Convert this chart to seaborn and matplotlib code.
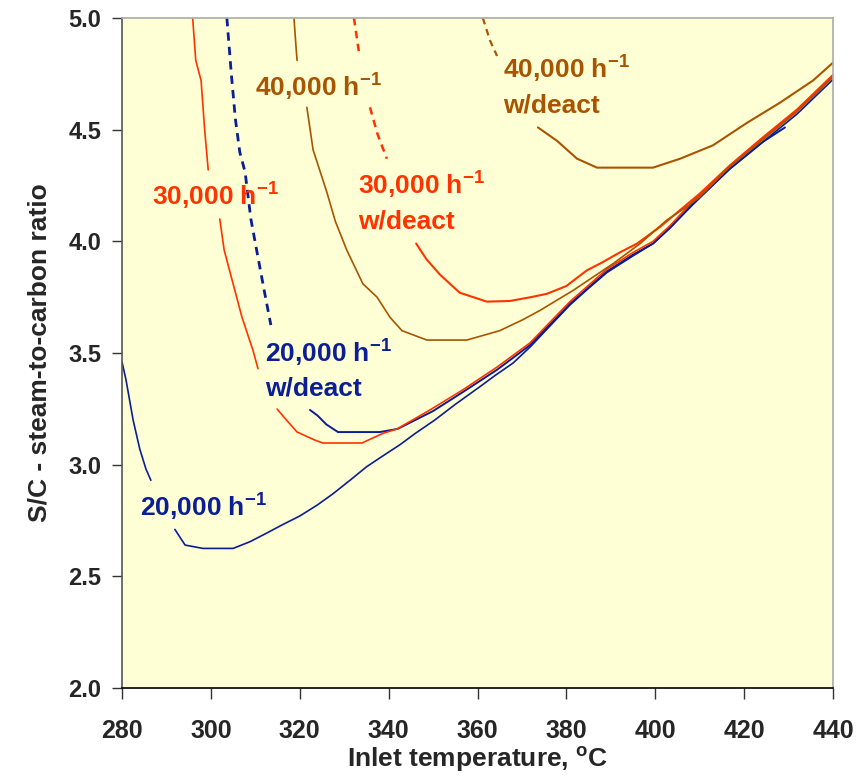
import numpy as np
import pandas as pd
import seaborn as sns
import matplotlib.pyplot as plt

# colours of the three space velocities
BLUE = "#0B1E96"
RED = "#FF3300"
BROWN = "#A85400"

# 20,000 h-1 (solid)
t_20k_a = [280.0, 280.9, 282.5, 284.0, 285.4, 286.5]
s_20k_a = [3.46, 3.38, 3.20, 3.07, 2.98, 2.93]
t_20k_b = [291.9, 294.2, 298.2, 305.0, 308.8, 312.6, 316.0, 320.0, 324.0, 327.5, 331.3,
           335.0, 338.0, 342.6, 346.0, 350.4, 355.0, 360.6, 364.0, 368.0, 372.0, 376.5,
           380.8, 385.0, 389.1, 395.0, 399.5, 403.3, 408.5, 416.8, 424.2, 431.9, 440.0]
s_20k_b = [2.71, 2.64, 2.625, 2.625, 2.655, 2.694, 2.73, 2.77, 2.82, 2.87, 2.93,
           2.99, 3.03, 3.09, 3.14, 3.20, 3.27, 3.35, 3.40, 3.455, 3.53, 3.625,
           3.715, 3.79, 3.86, 3.935, 3.99, 4.06, 4.165, 4.325, 4.445, 4.57, 4.725]

# 20,000 h-1 w/deact
t_20kd_a = [303.6, 304.6, 305.5, 306.5, 307.7, 309.0, 310.4, 312.0, 313.5]
s_20kd_a = [5.00, 4.75, 4.55, 4.40, 4.31, 4.10, 3.95, 3.78, 3.625]
t_20kd_b = [322.3, 324.0, 326.0, 328.6, 338.0, 342.0, 346.0, 350.0, 356.7, 364.4, 371.8,
            380.8, 389.1, 395.0, 399.5, 403.3, 408.5, 416.8, 424.2, 429.2]
s_20kd_b = [3.245, 3.22, 3.18, 3.146, 3.146, 3.16, 3.20, 3.24, 3.325, 3.425, 3.535,
            3.72, 3.865, 3.94, 3.99, 4.06, 4.17, 4.325, 4.445, 4.51]

# 30,000 h-1
t_30k_a = [295.9, 296.6, 297.8, 298.6, 299.4]
s_30k_a = [5.00, 4.81, 4.72, 4.50, 4.32]
t_30k_b = [302.0, 303.0, 305.0, 307.0, 309.5, 310.6]
s_30k_b = [4.10, 3.96, 3.81, 3.66, 3.51, 3.43]
t_30k_c = [314.9, 317.0, 319.4, 323.4, 325.2, 334.0, 336.5, 338.7, 341.9, 349.3, 356.7,
           364.4, 371.8, 380.8, 389.1, 395.0, 399.5, 403.3, 408.5, 416.8, 424.2, 431.9, 440.0]
s_30k_c = [3.249, 3.20, 3.146, 3.11, 3.097, 3.097, 3.12, 3.14, 3.16, 3.245, 3.335,
           3.437, 3.545, 3.73, 3.875, 3.95, 4.00, 4.07, 4.18, 4.335, 4.46, 4.585, 4.74]

# 30,000 h-1 w/deact
t_30kd_a = [332.2, 333.3]
s_30kd_a = [5.00, 4.85]
t_30kd_b = [335.8, 337.5, 339.6]
s_30kd_b = [4.60, 4.48, 4.37]
t_30kd_c = [346.2, 348.5, 351.6, 356.0, 362.1, 367.3, 372.0, 375.6, 380.0, 384.6, 388.0,
            392.0, 395.9, 401.1, 405.6, 410.1, 416.8, 424.2, 431.9, 440.0]
s_30kd_c = [3.99, 3.92, 3.85, 3.77, 3.73, 3.733, 3.75, 3.765, 3.80, 3.87, 3.905,
            3.95, 3.99, 4.065, 4.14, 4.215, 4.34, 4.465, 4.59, 4.745]

# 40,000 h-1
t_40k_a = [318.7, 319.2, 319.4]
s_40k_a = [5.00, 4.86, 4.81]
t_40k_b = [321.6, 323.0, 326.1, 328.0, 330.6, 334.2, 337.4, 340.3, 343.0, 348.6, 357.6,
           365.0, 370.3, 374.0, 381.5, 390.5, 396.6, 402.6, 407.1, 410.1, 416.8, 424.2,
           431.9, 440.0]
s_40k_b = [4.60, 4.41, 4.22, 4.09, 3.96, 3.81, 3.75, 3.66, 3.60, 3.558, 3.558,
           3.60, 3.65, 3.69, 3.78, 3.90, 3.99, 4.095, 4.155, 4.20, 4.335, 4.455,
           4.58, 4.735]

# 40,000 h-1 w/deact
t_40kd_a = [361.2, 362.8, 364.4]
s_40kd_a = [5.00, 4.90, 4.83]
t_40kd_b = [373.6, 377.9, 382.4, 386.9, 399.5, 405.6, 413.0, 420.6, 428.0, 435.5, 440.0]
s_40kd_b = [4.51, 4.45, 4.37, 4.33, 4.33, 4.37, 4.43, 4.53, 4.62, 4.72, 4.80]

x_ticks = [280, 300, 320, 340, 360, 380, 400, 420, 440]
y_ticks = [2.0, 2.5, 3.0, 3.5, 4.0, 4.5, 5.0]

# (temps, ratios, colour, dashed, width)
segments = [
    (t_20k_a, s_20k_a, BLUE, False, 1.2),
    (t_20k_b, s_20k_b, BLUE, False, 1.2),
    (t_20kd_a, s_20kd_a, BLUE, True, 2.0),
    (t_20kd_b, s_20kd_b, BLUE, False, 1.4),
    (t_30k_a, s_30k_a, RED, False, 1.2),
    (t_30k_b, s_30k_b, RED, False, 1.2),
    (t_30k_c, s_30k_c, RED, False, 1.2),
    (t_30kd_a, s_30kd_a, RED, True, 1.8),
    (t_30kd_b, s_30kd_b, RED, True, 1.8),
    (t_30kd_c, s_30kd_c, RED, False, 1.5),
    (t_40k_a, s_40k_a, BROWN, False, 1.2),
    (t_40k_b, s_40k_b, BROWN, False, 1.2),
    (t_40kd_a, s_40kd_a, BROWN, True, 1.6),
    (t_40kd_b, s_40kd_b, BROWN, False, 1.5),
]

sns.set_theme(style="ticks")
plt.rcParams["font.family"] = ["Liberation Sans", "DejaVu Sans"]
plt.rcParams["font.weight"] = "bold"
plt.rcParams["mathtext.fontset"] = "custom"
plt.rcParams["mathtext.rm"] = "Liberation Sans:bold"
plt.rcParams["mathtext.bf"] = "Liberation Sans:bold"
plt.rcParams["mathtext.default"] = "rm"

fig = plt.figure(figsize=(8.58, 7.84), dpi=100)
ax = fig.add_axes([122 / 858, 1 - 688 / 784, 711 / 858, 670 / 784])
ax.set_facecolor("#FFFFD5")

for t, s, col, dashed, lw in segments:
    seg = pd.DataFrame({"temp": t, "sc": s})
    sns.lineplot(data=seg, x="temp", y="sc", ax=ax, color=col, lw=lw, sort=False,
                 estimator=None, linestyle=(0, (3.0, 2.2)) if dashed else "-")

fs = 19
ax.text(309.9, 4.69, "40,000 h$^{-1}$", color=BROWN, fontsize=fs, va="center")
ax.text(365.7, 4.77, "40,000 h$^{-1}$", color=BROWN, fontsize=fs, va="center")
ax.text(365.7, 4.61, "w/deact", color=BROWN, fontsize=fs, va="center")
ax.text(286.8, 4.20, "30,000 h$^{-1}$", color=RED, fontsize=fs, va="center")
ax.text(333.1, 4.25, "30,000 h$^{-1}$", color=RED, fontsize=fs, va="center")
ax.text(333.1, 4.09, "w/deact", color=RED, fontsize=fs, va="center")
ax.text(312.2, 3.50, "20,000 h$^{-1}$", color=BLUE, fontsize=fs, va="center")
ax.text(312.2, 3.34, "w/deact", color=BLUE, fontsize=fs, va="center")
ax.text(284.0, 2.81, "20,000 h$^{-1}$", color=BLUE, fontsize=fs, va="center")

ax.set_xlim(280, 440)
ax.set_ylim(2.0, 5.0)
ax.set_xticks(x_ticks)
ax.set_yticks(y_ticks)
ax.set_yticklabels([f"{v:.1f}" for v in y_ticks])
ax.tick_params(axis="x", direction="out", length=8, width=1, pad=14, labelsize=18, color="#333333")
ax.tick_params(axis="y", direction="out", length=7, width=1, pad=8, labelsize=17, color="#333333")
for lab in ax.get_xticklabels() + ax.get_yticklabels():
    lab.set_fontweight("bold")

ax.set_xlabel("Inlet temperature, $^{o}$C", fontsize=19, fontweight="bold", labelpad=2)
ax.set_ylabel("S/C - steam-to-carbon ratio", fontsize=19, fontweight="bold", labelpad=12)

ax.spines["left"].set_color("#555555")
ax.spines["bottom"].set_color("#000000")
ax.spines["top"].set_color("#AAAAAA")
ax.spines["right"].set_color("#AAAAAA")
for sp in ax.spines.values():
    sp.set_linewidth(1.2)

fig.savefig("out.png", dpi=100)
